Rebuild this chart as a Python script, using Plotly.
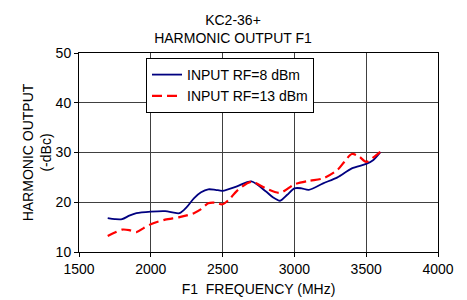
import plotly.graph_objects as go

freq_8 = [1700, 1750, 1800, 1850, 1900, 2000, 2100, 2200, 2250, 2300, 2350, 2400, 2450, 2500,
          2600, 2700, 2800, 2850, 2900, 2950, 3000, 3050, 3100, 3200, 3300, 3400, 3500, 3550, 3600]
out_8 = [16.8, 16.6, 16.6, 17.3, 17.8, 18.1, 18.2, 17.8, 19.0, 20.8, 22.0, 22.6, 22.5, 22.3,
         23.2, 24.2, 22.2, 21.0, 20.3, 21.5, 22.8, 22.8, 22.5, 23.8, 25.0, 26.8, 27.7, 28.5, 30.1]

freq_13 = [1700, 1750, 1800, 1850, 1900, 1950, 2000, 2100, 2200, 2300, 2350, 2400, 2450, 2500,
           2550, 2600, 2700, 2800, 2900, 3000, 3100, 3200, 3300, 3350, 3400, 3450, 3500, 3550, 3600]
out_13 = [13.2, 13.9, 14.5, 14.4, 14.0, 14.8, 15.6, 16.5, 17.0, 17.8, 18.6, 19.8, 19.9, 19.6,
          20.7, 22.3, 24.1, 22.8, 21.9, 23.6, 24.3, 24.8, 26.5, 28.2, 29.7, 29.2, 28.1, 29.0, 30.2]

x_ticks = [1500, 2000, 2500, 3000, 3500, 4000]
y_ticks = [10, 20, 30, 40, 50]

FONT = "Liberation Sans, Arial, sans-serif"
FS = 14
W, H = 459, 292  # page body has an 8px default margin

fig = go.Figure()
fig.add_trace(go.Scatter(x=freq_8, y=out_8, mode="lines", name="INPUT RF=8 dBm",
                         line=dict(color="#000080", width=1.8, shape="spline", smoothing=0.8)))
fig.add_trace(go.Scatter(x=freq_13, y=out_13, mode="lines", name="INPUT RF=13 dBm",
                         line=dict(color="#FF0000", width=2.2, dash="10px,5px", shape="spline", smoothing=0.8)))

fig.update_layout(
    width=W, height=H,
    margin=dict(l=71, r=29, t=45, b=48),
    paper_bgcolor="white", plot_bgcolor="white",
    font=dict(family=FONT, size=FS, color="black"),
    title=dict(text="KC2-36+<br>HARMONIC OUTPUT F1", x=(233 - 8) / W, xanchor="center",
               xref="container", yref="container",
               y=1 - 17 / H, yanchor="bottom", font=dict(size=FS, family=FONT)),
    showlegend=True,
    legend=dict(x=(146 - 79) / 359, y=1 - 5 / 199, xanchor="left", yanchor="top",
                bgcolor="white", bordercolor="black", borderwidth=1,
                font=dict(size=FS, family=FONT), tracegroupgap=0,
                itemwidth=30),
    xaxis=dict(range=[1500, 4000], tickvals=x_ticks, ticktext=[str(v) for v in x_ticks],
               showgrid=True, gridcolor="#404040", gridwidth=1,
               showline=True, linecolor="black", linewidth=1, mirror=True,
               ticks="outside", ticklen=4, tickcolor="black",
               zeroline=False, automargin=False,
               title=dict(text="F1  FREQUENCY (MHz)", font=dict(size=FS, family=FONT), standoff=8)),
    yaxis=dict(range=[10, 50], tickvals=y_ticks, ticktext=[str(v) for v in y_ticks],
               showgrid=True, gridcolor="#404040", gridwidth=1,
               showline=True, linecolor="black", linewidth=1, mirror=True,
               ticks="outside", ticklen=4, tickcolor="black",
               zeroline=False, automargin=False,
               title=dict(text="HARMONIC OUTPUT<br>(-dBc)", font=dict(size=FS, family=FONT), standoff=0)),
)

fig.write_html("out.html")
